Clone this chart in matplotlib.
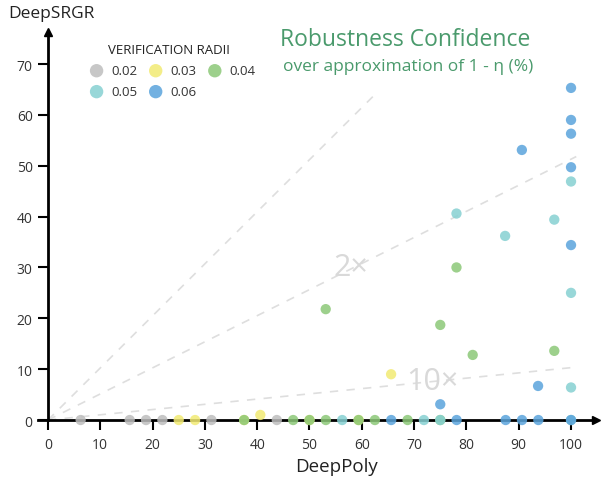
import matplotlib
matplotlib.use("Agg")
import matplotlib.pyplot as plt

plt.rcParams['font.family'] = ['Open Sans', 'DejaVu Sans']

# verification radii and their colours
radii = ["0.02", "0.03", "0.04", "0.05", "0.06"]
colors = ["#bdbdbd", "#f2ea73", "#8cc878", "#86d0d2", "#5aa4dc"]

# DeepPoly (x) vs DeepSRGR (y) per radius
deeppoly = {
    "0.02": [6.25, 15.625, 18.75, 21.875, 31.25, 43.75],
    "0.03": [25.0, 28.125, 50.0, 40.6, 65.6, 37.5, 59.4],
    "0.04": [37.5, 46.875, 53.125, 59.375, 62.5, 68.75, 53.1, 78.1, 75.0, 81.2, 96.8, 75.0, 50.0],
    "0.05": [56.25, 71.875, 75.0, 100.0, 100.0, 100.0, 100.0, 96.8, 87.4, 78.1],
    "0.06": [65.625, 78.125, 87.5, 90.625, 93.75, 100.0, 100.0, 100.0, 100.0, 100.0, 100.0, 90.6, 93.7, 75.0],
}
deepsrgr = {
    "0.02": [0, 0, 0, 0, 0, 0],
    "0.03": [0, 0, 0, 1.0, 9.0, 0, 0],
    "0.04": [0, 0, 0, 0, 0, 0, 21.8, 30.0, 18.7, 12.8, 13.6, 0, 0],
    "0.05": [0, 0, 0, 0, 46.9, 25.0, 6.4, 39.4, 36.2, 40.6],
    "0.06": [0, 0, 0, 0, 0, 0, 65.3, 59.0, 56.3, 49.7, 34.4, 53.1, 6.7, 3.1],
}

# reference ratio lines (end points)
ratio_names = ["1x", "2x", "10x"]
ratio_end_x = [63.0, 101.0, 101.0]
ratio_end_y = [64.5, 51.8, 10.4]

fig = plt.figure(figsize=(6.01, 4.85), dpi=100)
ax = fig.add_axes([37.5 / 601, 1 - 431.2 / 485, (599.8 - 37.5) / 601, (431.2 - 29.4) / 485])
ax.set_xlim(-2, 105.5)
ax.set_ylim(-2, 77)

for ex, ey in zip(ratio_end_x, ratio_end_y):
    ax.plot([0, ex], [0, ey], color="#dedede", lw=1.2, dashes=(5, 5), zorder=1)

ax.text(58, 30, "2×", fontsize=22, color="#d9d9d9", ha="center", va="center", zorder=1)
ax.text(73.5, 7.6, "10×", fontsize=22, color="#d9d9d9", ha="center", va="center", zorder=1)

handles = {}
for r, c in zip(radii, colors):
    handles[r] = ax.scatter(deeppoly[r], deepsrgr[r], s=55, color=c, alpha=0.85, edgecolors="none",
                            zorder=3, clip_on=False, label=r)

for s in ["top", "right"]:
    ax.spines[s].set_visible(False)
ax.spines["left"].set_position(("data", 0))
ax.spines["bottom"].set_position(("data", 0))
ax.spines["left"].set_bounds(0, 76)
ax.spines["bottom"].set_bounds(-2, 104.5)
ax.spines["left"].set_linewidth(2)
ax.spines["bottom"].set_linewidth(2)
ax.spines["left"].set_zorder(2)
ax.spines["bottom"].set_zorder(2)
ax.plot(104.8, 0, marker=">", color="black", markersize=6, clip_on=False, zorder=4)
ax.plot(0, 76.3, marker="^", color="black", markersize=6, clip_on=False, zorder=4)

ax.set_xticks(range(0, 101, 10))
ax.set_yticks(range(0, 71, 10))
ax.tick_params(axis="x", direction="out", length=7, width=1.5, labelsize=10, pad=5)
ax.tick_params(axis="y", direction="out", length=7, width=1.5, labelsize=10, pad=4)
ax.tick_params(colors="black", which="both", labelcolor="#333333")

fig.text(8 / 601, 1 - 14 / 485, "DeepSRGR", fontsize=12.5, color="#222222", ha="left", va="center")
fig.text(337 / 601, 1 - 467 / 485, "DeepPoly", fontsize=13.5, color="#222222", ha="center", va="center")

fig.text(405 / 601, 1 - 40 / 485, "Robustness Confidence", fontsize=16.5, color="#4a9a6c",
         ha="center", va="center")
fig.text(408 / 601, 1 - 67 / 485, "over approximation of 1 - η (%)", fontsize=12.5, color="#4a9a6c",
         ha="center", va="center")

order = ["0.02", "0.05", "0.03", "0.06", "0.04"]
leg = ax.legend([handles[r] for r in order], order, title="VERIFICATION RADII", ncol=3,
                loc="upper left", bbox_to_anchor=(34 / 562, 1 - 3 / 402),
                frameon=False, fontsize=9.5, title_fontsize=9.5, handletextpad=0.1,
                columnspacing=0.4, markerscale=1.3, labelspacing=0.6)
leg.get_title().set_color("#222222")
for t in leg.get_texts():
    t.set_color("#333333")

fig.savefig("out.png", dpi=100)
